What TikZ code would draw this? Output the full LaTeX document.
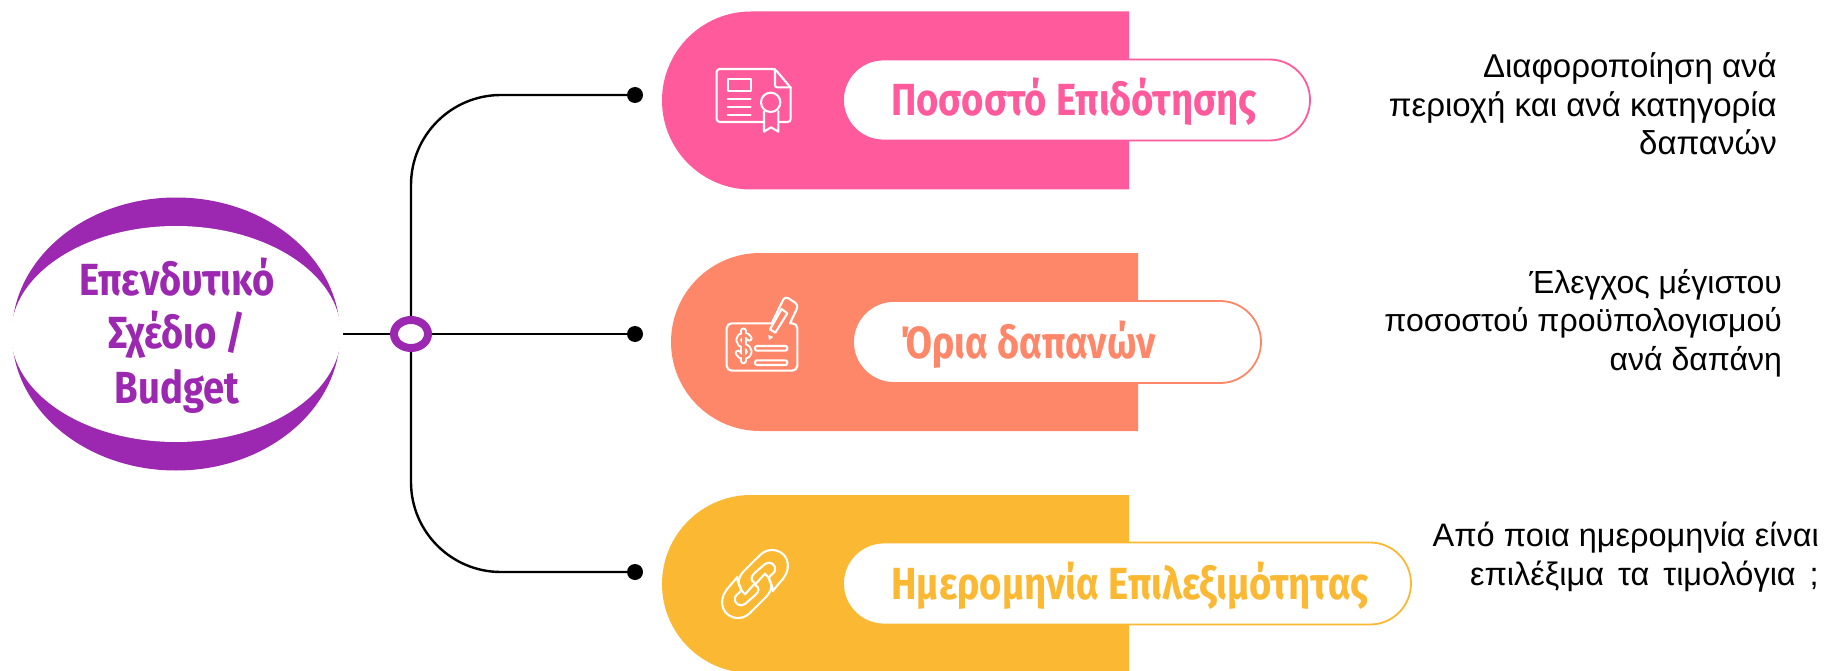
\documentclass[tikz,border=0pt]{standalone}
\usepackage{fontspec}
\setmainfont{Liberation Sans}
\newfontfamily\headfont[FakeStretch=0.85]{Fira Sans}
\usetikzlibrary{shapes.geometric,shapes.misc}
\definecolor{cPurple}{HTML}{9C27B0}
\definecolor{cPink}{HTML}{FF5A9B}
\definecolor{cCoral}{HTML}{FF8769}
\definecolor{cAmber}{HTML}{FBB832}
\tikzset{
  conn/.style={draw=black,line width=2.4pt},
  enddot/.style={circle,fill=black,inner sep=0pt,minimum size=16pt},
  pill/.style={rounded rectangle,fill=white,draw=#1,line width=1.8pt,inner sep=0pt},
  title/.style={anchor=base,font=\headfont\bfseries\fontsize{45}{54}\selectfont,inner sep=0pt},
  desc/.style={align=right,anchor=base east,inner sep=0pt,font=\fontsize{#1}{38.5}\selectfont,text=black},
  icon/.style={draw=white,line width=2.1pt,line join=round,line cap=round},
}
\newcommand{\barshape}[4]{% left-arc start x, right x, top y, color
  \fill[#4] (#2,#3) -- (#1,#3) arc[x radius=89,y radius=89,start angle=-90,end angle=-270] -- (#2,#3+178) -- cycle;}
\begin{document}
\begin{tikzpicture}[x=1pt,y=-1pt]
\useasboundingbox (0,0) rectangle (1827,671);
\fill[white] (0,0) rectangle (1827,671);

% left ellipse
\node[ellipse,fill=cPurple,inner sep=0pt,minimum width=328pt,minimum height=273pt] (outer) at (176,334) {};
\node[ellipse,fill=white,inner sep=0pt,minimum width=330pt,minimum height=216pt] (main) at (176,334) {};
\node[title,anchor=base,align=center,text=cPurple] (t1a) at (177,295) {Επενδυτικό};
\node[title,text=cPurple] (t1b) at (177,348) {Σχέδιο /};
\node[title,text=cPurple] (t1c) at (177,403) {Budget};

% bars
\barshape{751}{1129}{11.5}{cPink}
\barshape{760}{1138}{253}{cCoral}
\begin{scope}
\clip (0,0) rectangle (1827,671);
\barshape{751}{1129}{495}{cAmber}
\end{scope}

% pills
\node[pill=cPink,minimum width=467pt,minimum height=81pt] (p1) at (1076.5,100) {};
\node[pill=cCoral,minimum width=408pt,minimum height=82pt] (p2) at (1057,342) {};
\node[pill=cAmber,minimum width=568pt,minimum height=82pt] (p3) at (1127,583.5) {};
\node[title,text=cPink] (l1) at (1074,116) {Ποσοστό Επιδότησης};
\node[title,text=cCoral] (l2) at (1028,358) {Όρια δαπανών};
\node[title,text=cAmber] (l3) at (1130,599) {Ημερομηνία Επιλεξιμότητας};

% connectors
\node[ellipse,draw=cPurple,fill=white,line width=8pt,inner sep=0pt,minimum width=34pt,minimum height=28pt] (hub) at (411,334) {};
\node[enddot] (d1) at (635,95) {};
\node[enddot] (d2) at (635,334) {};
\node[enddot] (d3) at (635,572) {};
\coordinate (stub) at (343,334);
\draw[conn] (stub) -- (hub);
\draw[conn] (hub) -- (d2);
\draw[conn,rounded corners=90pt] (hub) |- (d1);
\draw[conn,rounded corners=90pt] (hub) |- (d3);

% descriptions (anchor is the baseline of the last line)
\node[desc=33] (r1) at (1777,155) {Διαφοροποίηση ανά\\περιοχή και ανά κατηγορία\\δαπανών};
\node[desc=32] (r2) at (1782,370) {Έλεγχος μέγιστου\\ποσοστού προϋπολογισμού\\ανά δαπάνη};
\node[desc=32.5] (r3) at (1819,585) {Από ποια ημερομηνία είναι\\επιλέξιμα\hspace{5pt} τα\hspace{5pt} τιμολόγια\hspace{5pt} ;};

% certificate icon
\begin{scope}[shift={(700,50)},x=0.3333pt,y=-0.3333pt,icon]
\draw[rounded corners=3pt] (190,216) -- (50,216) -- (50,57) -- (225,57) -- (272,113);
\draw[rounded corners=3pt] (272,113) -- (272,216) -- (238,216);
\draw[rounded corners=2pt] (225,57) -- (225,112) -- (272,112);
\draw (83,88) rectangle (152,122);
\draw (83,147) -- (152,147);
\draw (83,170) -- (152,170);
\draw (83,195) -- (152,195);
\draw (212,157) circle[radius=29];
\draw (192,184) -- (192,245) -- (213,232) -- (235,245) -- (235,184);
\end{scope}

% cheque icon
\begin{scope}[shift={(710,285)},x=0.3333pt,y=-0.3333pt,icon]
\draw[rounded corners=5pt] (185,115) -- (50,115) -- (50,257) -- (262,257) -- (262,115) -- (240,115);
\draw[rounded corners=4pt] (185,115) -- (225,33) -- (266,60) -- (240,115);
\draw (180,133) -- (196,143) -- (232,85) -- (215,72) -- cycle;
\fill[white,draw=none] (175,150) -- (190,156) -- (177,165) -- cycle;
\draw[rounded corners=2pt] (135,183) rectangle (232,197);
\draw[rounded corners=2pt] (135,226) rectangle (232,240);
\draw[line width=6.6pt,line cap=round] (100,137) -- (100,228);
\draw[line width=6.6pt,line cap=round] (118,160) .. controls (112,145) and (86,148) .. (86,165) .. controls (86,185) and (118,180) .. (118,200) .. controls (118,218) and (90,220) .. (84,204);
\draw[draw=cCoral,line width=2.6pt,line cap=round] (100,137) -- (100,228);
\draw[draw=cCoral,line width=2.6pt,line cap=round] (118,160) .. controls (112,145) and (86,148) .. (86,165) .. controls (86,185) and (118,180) .. (118,200) .. controls (118,218) and (90,220) .. (84,204);
\end{scope}

% link icon
\begin{scope}[shift={(700,530)},x=0.3333pt,y=-0.3333pt,icon]
\def\linkpath{(218,183) -- (250,145) .. controls (278,110) and (262,60) .. (215,60) .. controls (195,60) and (185,70) .. (170,85) -- (130,125) .. controls (110,147) and (112,170) .. (135,193) -- (165,160) .. controls (150,150) and (152,140) .. (165,128) -- (195,102) .. controls (210,90) and (230,105) .. (225,122) .. controls (222,132) and (208,135) .. (207,145) .. controls (206,155) and (220,165) .. (218,183)}
\draw \linkpath;
\begin{scope}[shift={(330,324)},xscale=-1,yscale=-1]
\draw \linkpath;
\end{scope}
\end{scope}
\end{tikzpicture}
\end{document}
